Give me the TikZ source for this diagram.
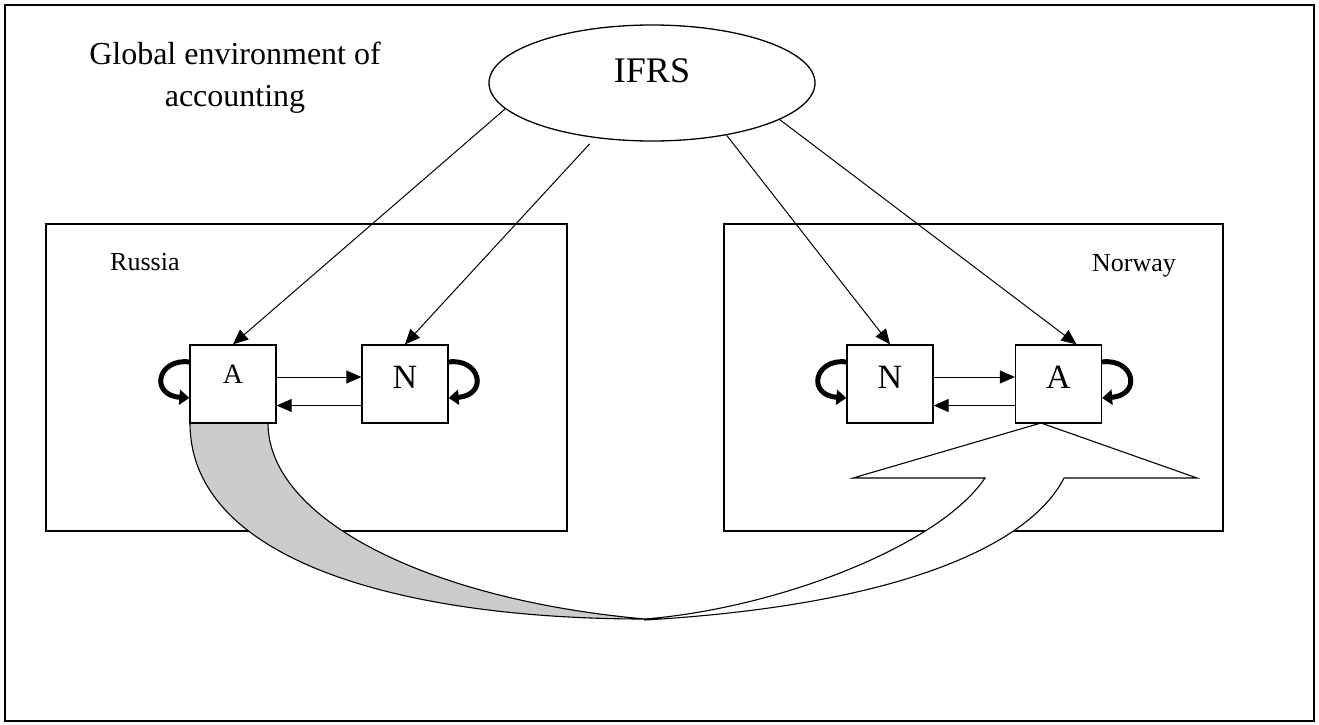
\documentclass[tikz,border=0pt]{standalone}
\usepackage{fontspec}
\setmainfont{Liberation Serif}
\usetikzlibrary{arrows.meta,shapes.geometric}

\begin{document}
\begin{tikzpicture}[x=1pt,y=-1pt,
    flow/.style={-{Triangle[length=15pt,width=13pt]},line width=1pt},
    turn/.style={-{Triangle[length=10pt,width=15pt]},line width=5pt},
    cell/.style={draw,fill=white,line width=1.3pt,minimum width=86pt,minimum height=78pt,
      inner sep=0pt,text depth=14pt,font=\fontsize{34}{34}\selectfont},
    country/.style={draw,line width=1.3pt,inner sep=0pt},
    tag/.style={anchor=base west,inner sep=0pt,font=\fontsize{26}{26}\selectfont}]

  \useasboundingbox (0,0) rectangle (1319,725);
  \draw[line width=1.5pt] (5,5) rectangle (1314,721);

  \node[align=center,anchor=base,inner sep=0pt,font=\fontsize{32}{41}\selectfont] (glob) at (235,106)
    {Global environment of\\accounting};
  \node[draw,ellipse,line width=1.3pt,minimum width=326pt,minimum height=116pt,inner sep=0pt,
    text depth=24pt,font=\fontsize{36}{36}\selectfont] (ifrs) at (652,83) {IFRS};

  \node[country,minimum width=521pt,minimum height=307pt] (russia) at (306.5,377.5) {};
  \node[country,minimum width=499pt,minimum height=307pt] (norway) at (973.5,377.5) {};
  \node[tag] (rlab) at (110,270) {Russia};
  \node[tag] (nlab) at (1092,271) {Norway};

  \filldraw[fill=black!20,line width=1.1pt] (190,423) -- (268,423)
    .. controls (268,520) and (430,600) .. (645,619)
    .. controls (400,619) and (190,560) .. (190,423) -- cycle;
  \filldraw[fill=white,line width=1.1pt] (645,619)
    .. controls (780,608) and (940,545) .. (985,478)
    -- (853,478) -- (1041,423) -- (1197,478) -- (1064,478)
    .. controls (1030,545) and (900,605) .. (645,620) -- cycle;

  \node[cell,text depth=20pt,font=\fontsize{28}{28}\selectfont] (rA) at (233,384) {A};
  \node[cell] (rN) at (405,384) {N};
  \node[cell] (nN) at (890,384) {N};
  \node[cell] (nA) at (1058.5,384) {A};

  \foreach \l/\r in {rA/rN,nN/nA}{
    \draw[flow] ([yshift=7pt]\l.east) -- ([yshift=7pt]\r.west);
    \draw[flow] ([yshift=-21.5pt]\r.west) -- ([yshift=-21.5pt]\l.east);
  }
  \foreach \n in {rA,nN}
    \draw[turn] ([yshift=22pt]\n.west) .. controls +(-32,-4) and +(-40,-3) .. ([yshift=-14pt]\n.west);
  \foreach \n in {rN,nA}
    \draw[turn] ([yshift=22pt]\n.east) .. controls +(32,-4) and +(40,-3) .. ([yshift=-14pt]\n.east);

  \draw[flow] (ifrs.190.7) -- (rA.north);
  \draw[flow,shorten <=8pt] (ifrs.224) -- (rN.north);
  \draw[flow] (ifrs.325.8) -- (nN.north);
  \draw[flow] (ifrs.344.4) -- ([xshift=18pt]nA.north);

\end{tikzpicture}
\end{document}
